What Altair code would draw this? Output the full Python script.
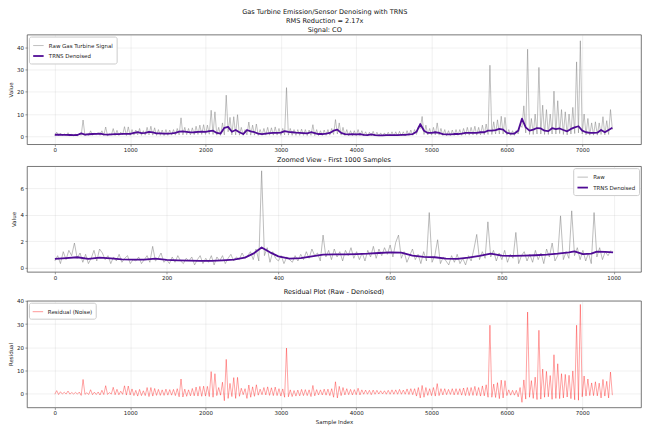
import altair as alt
import pandas as pd

TITLE_LINES = ["Gas Turbine Emission/Sensor Denoising with TRNS", "RMS Reduction = 2.17x", "Signal: CO"]
ZOOM_TITLE = "Zoomed View - First 1000 Samples"
RES_TITLE = "Residual Plot (Raw - Denoised)"

RAW_NAME = "Raw Gas Turbine Signal"
DEN_NAME = "TRNS Denoised"
RAW_SHORT = "Raw"
RES_NAME = "Residual (Noise)"

# full series, read per 50-sample block: band bottom (lo), band top (hi), denoised level
full_lo = [0.3, 0.2, 0.3, 0.3, 0.2, 0.2, 0.2, 0.4, 0.3, 0.4,
           0.4, 0.5, 0.4, 0.3, 0.2, 0.5, 0.3, 0.3, 0.6, 0.3,
           0.4, 0.5, 0.6, 0.4, 0.5, 0.6, 0.5, 0.4, 0.4, 0.3,
           0.4, 0.5, 0.5, 0.6, 0.6, 0.7, 0.6, 0.7, 0.8, 0.8,
           0.8, 0.9, 0.8, 0.5, 0.4, 0.6, 2.0, 0.6, 0.6, 0.5,
           0.4, 0.6, 0.5, 0.5, 0.4, 0.4, 0.5, 0.5, 0.5, 0.5,
           0.4, 0.6, 0.5, 0.4, 0.4, 0.4, 0.4, 0.3, 0.4, 0.3,
           0.3, 0.3, 0.4, 0.5, 0.8, 1.0, 0.5, 0.3, 0.2, 0.2,
           0.2, 0.3, 0.2, 0.1, 0.2, 0.1, 0.1, 0.1, 0.1, 0.1,
           0.1, 0.1, 0.2, 0.2, 0.3, 0.4, 0.8, 3.5, 0.8, 0.6,
           0.5, 0.6, 0.5, 0.3, 0.2, 0.3, 0.3, 0.4, 0.4, 0.5,
           0.5, 0.6, 0.5, 0.6, 0.7, 0.8, 0.8, 1.0, 1.0, 1.0,
           0.5, 0.4, 0.4, 1.0, 4.0, 1.5, 0.8, 0.8, 1.0, 1.0,
           0.8, 0.8, 1.0, 1.0, 1.2, 0.8, 0.6, 1.0, 1.2, 1.5,
           1.0, 0.6, 0.5, 0.5, 0.5, 0.8, 0.6, 0.8, 3.0]
full_hi = [1.85, 1.4, 1.1, 1.6, 0.9, 0.9, 1.1, 7.3, 1.0, 2.45,
           1.5, 1.6, 2.45, 4.15, 1.0, 3.45, 2.65, 1.85, 4.3, 4.2,
           3.0, 2.8, 3.5, 2.5, 4.0, 4.5, 3.8, 3.0, 2.8, 3.0,
           2.8, 3.0, 3.5, 8.3, 4.0, 3.5, 3.8, 4.5, 5.0, 5.2,
           5.0, 11.7, 11.0, 4.0, 6.0, 18.5, 8.5, 8.8, 9.7, 4.0,
           3.0, 6.4, 5.0, 5.5, 3.0, 3.5, 4.0, 3.8, 4.2, 3.5,
           3.5, 21.9, 3.5, 3.0, 3.0, 3.2, 3.0, 2.8, 5.2, 3.0,
           2.5, 2.8, 3.0, 3.5, 7.5, 6.0, 4.0, 3.0, 2.5, 2.5,
           3.0, 2.5, 2.0, 1.8, 2.2, 1.8, 1.5, 1.5, 1.8, 2.0,
           2.0, 2.2, 2.0, 2.5, 2.8, 3.0, 4.5, 8.9, 5.0, 3.5,
           4.0, 6.0, 3.5, 3.0, 2.5, 2.8, 3.0, 3.0, 3.5, 4.0,
           4.0, 4.5, 4.0, 5.0, 5.5, 32.0, 6.5, 7.4, 9.0, 8.5,
           3.0, 2.5, 2.5, 5.0, 13.7, 39.2, 8.0, 10.0, 31.0, 14.0,
           12.0, 10.0, 20.3, 16.0, 12.0, 11.0, 10.0, 13.0, 33.5, 43.0,
           10.0, 8.0, 6.0, 6.5, 6.0, 8.8, 7.0, 12.0]
full_den = [0.68, 0.72, 0.62, 0.62, 0.55, 0.5, 0.55, 1.3, 0.75, 0.9,
            1.0, 1.02, 1.13, 0.85, 0.68, 0.85, 0.92, 0.93, 1.05, 1.05,
            1.1, 1.5, 1.8, 1.4, 1.5, 2.0, 1.7, 1.3, 1.3, 1.2,
            1.2, 1.3, 1.5, 2.1, 2.2, 2.0, 1.7, 1.8, 2.0, 2.1,
            2.0, 2.3, 2.5, 1.5, 1.2, 3.8, 4.2, 2.0, 2.8, 1.8,
            1.0, 2.8, 2.2, 1.8, 1.2, 1.0, 1.2, 1.4, 1.5, 1.5,
            1.6, 2.3, 2.0, 1.8, 1.6, 1.5, 1.4, 1.3, 1.8, 1.4,
            1.0, 1.0, 1.2, 1.5, 2.5, 3.0, 1.5, 1.0, 0.8, 0.9,
            0.8, 1.0, 0.6, 0.5, 0.8, 0.5, 0.4, 0.4, 0.5, 0.5,
            0.5, 0.5, 0.6, 0.6, 0.8, 1.0, 2.0, 5.5, 2.5, 1.5,
            1.5, 1.8, 1.5, 1.0, 0.8, 0.8, 1.0, 1.0, 1.2, 1.5,
            1.5, 1.5, 1.5, 1.8, 1.8, 2.5, 2.5, 2.8, 3.3, 3.0,
            1.5, 1.2, 1.2, 2.5, 7.9, 4.0, 2.5, 3.0, 3.7, 3.5,
            2.5, 2.3, 3.6, 3.2, 3.5, 2.8, 2.2, 3.3, 4.0, 4.5,
            2.5, 1.8, 1.5, 1.5, 1.6, 2.8, 1.8, 2.8, 3.8]

# first 1000 samples, raw every 5 samples
zoom_raw = [0.5, 0.9, 0.3, 1.2, 0.6, 1.3, 0.9, 1.85, 0.7, 1.1,
            0.4, 1.0, 0.3, 0.7, 1.3, 0.5, 1.4, 1.1, 0.6, 0.9,
            0.3, 0.8, 0.5, 1.0, 0.4, 0.7, 0.9, 0.3, 0.6, 0.5,
            0.8, 0.3, 0.6, 0.9, 0.4, 1.6, 0.5, 0.7, 1.1, 0.4,
            0.6, 0.3, 0.8, 0.4, 0.9, 0.5, 0.3, 0.7, 0.5, 0.8,
            0.2, 0.6, 0.9, 0.3, 0.7, 0.4, 0.9, 0.2, 0.8, 0.5,
            0.9, 0.3, 0.7, 1.0, 0.5, 0.8, 0.6, 1.1, 0.7, 0.9,
            1.2, 0.6, 1.4, 0.5, 7.3, 0.9, 1.5, 0.4, 1.2, 0.7,
            0.5, 0.9, 0.3, 0.8, 0.6, 0.4, 0.9, 0.5, 1.0, 0.6,
            1.2, 0.7, 1.4, 0.9, 1.1, 0.5, 2.45, 0.8, 1.3, 0.6,
            1.4, 0.8, 1.2, 0.5, 1.3, 0.9, 1.5, 0.7, 1.2, 0.6,
            1.1, 0.5, 1.3, 0.8, 1.6, 0.7, 1.4, 0.9, 1.5, 1.0,
            1.7, 0.8, 1.9, 2.45, 0.7, 1.2, 0.4, 0.9, 1.4, 0.6,
            1.0, 0.3, 1.2, 0.5, 4.15, 0.4, 0.9, 2.1, 0.3, 0.8,
            0.5, 0.2, 0.9, 0.4, 1.0, 0.3, 0.7, 0.2, 0.9, 0.5,
            1.4, 2.5, 0.6, 1.2, 0.7, 3.45, 0.8, 1.3, 0.5, 1.1,
            0.6, 1.3, 0.4, 1.0, 0.7, 2.65, 0.3, 0.9, 1.2, 0.5,
            1.0, 0.4, 1.3, 0.6, 1.1, 0.3, 1.4, 0.8, 1.85, 0.5,
            0.9, 3.9, 0.6, 1.2, 0.7, 4.28, 0.9, 1.5, 0.6, 1.3,
            0.5, 1.1, 0.3, 4.15, 0.8, 1.5, 0.6, 1.2, 0.9, 1.3]
zoom_den_idx = [0, 20, 40, 60, 80, 100, 120, 140, 160, 180, 200, 220, 240, 260, 280,
                300, 320, 340, 355, 370, 385, 400, 420, 440, 460, 480, 500, 520, 540,
                560, 580, 600, 620, 640, 660, 680, 700, 720, 740, 760, 780, 800, 820,
                840, 860, 880, 900, 920, 930, 945, 960, 970, 985, 999]
zoom_den = [0.65, 0.72, 0.78, 0.65, 0.75, 0.7, 0.62, 0.6, 0.6, 0.67, 0.58, 0.55, 0.52, 0.5, 0.5,
            0.55, 0.6, 0.75, 1.05, 1.52, 1.15, 0.85, 0.68, 0.72, 0.85, 0.97, 1.0, 1.0, 1.02,
            1.05, 1.1, 1.15, 1.13, 0.9, 0.8, 0.78, 0.68, 0.65, 0.75, 0.88, 1.05, 0.9, 0.88,
            0.9, 0.93, 0.97, 1.05, 1.15, 1.23, 1.02, 1.05, 1.2, 1.18, 1.15]

full_xticks = [0, 1000, 2000, 3000, 4000, 5000, 6000, 7000]
zoom_xticks = [0, 200, 400, 600, 800, 1000]
top_yticks = [0, 10, 20, 30, 40]
zoom_yticks = [0, 2, 4, 6]
res_yticks = [0, 10, 20, 30, 40]

C_RAW, C_DEN, C_RES = "#808080", "#4f0b95", "#ff0000"

# tables
raw_idx, raw_val, res_val = [], [], []
for k, lo in enumerate(full_lo):
    raw_idx.append(50 * k); raw_val.append(lo); res_val.append(lo - full_den[k])
    if k < len(full_hi):
        raw_idx.append(50 * k + 25); raw_val.append(full_hi[k]); res_val.append(full_hi[k] - full_den[k])

df_top_raw = pd.DataFrame({"idx": raw_idx, "value": raw_val, "series": RAW_NAME})
df_top_den = pd.DataFrame({"idx": [50 * k for k in range(len(full_den))], "value": full_den, "series": DEN_NAME})
df_zoom_raw = pd.DataFrame({"idx": [5 * i for i in range(len(zoom_raw))], "value": zoom_raw, "series": RAW_SHORT})
df_zoom_den = pd.DataFrame({"idx": zoom_den_idx, "value": zoom_den, "series": DEN_NAME})
df_res = pd.DataFrame({"idx": raw_idx, "value": res_val, "series": RES_NAME})

W = 616
FONT = "DejaVu Sans"


def legend(orient, **kw):
    return alt.Legend(title=None, orient=orient, offset=2, padding=3, fillColor="white",
                      strokeColor="#cccccc", cornerRadius=2, labelFontSize=5.5, labelFont=FONT,
                      symbolType="stroke", symbolSize=110, rowPadding=0, labelOffset=4,
                      labelColor="#222", **kw)


def xaxis(ticks, title):
    if title:
        return alt.Axis(values=ticks, format="d", title=title)
    return alt.Axis(values=ticks, format="d", title=None)


def layer(df, xdom, xticks, ydom, yticks, ytitle, dom, cols, widths, opac, orient):
    lg = legend(orient)
    return alt.Chart(df).mark_line(clip=True, strokeJoin="round").encode(
        x=alt.X("idx:Q", scale=alt.Scale(domain=xdom, nice=False, zero=False), axis=xaxis(xticks, None)),
        y=alt.Y("value:Q", scale=alt.Scale(domain=ydom, nice=False, zero=False),
                axis=alt.Axis(values=yticks, title=ytitle)),
        color=alt.Color("series:N", scale=alt.Scale(domain=dom, range=cols), legend=lg),
        strokeWidth=alt.StrokeWidth("series:N", scale=alt.Scale(domain=dom, range=widths), legend=lg),
        opacity=alt.Opacity("series:N", scale=alt.Scale(domain=dom, range=opac), legend=lg),
    )


FULL_X = [-370, 7780]
ZOOM_X = [-50, 1049]

dom1 = [RAW_NAME, DEN_NAME]
p1 = alt.layer(
    layer(df_top_raw, FULL_X, full_xticks, [-3.6, 45.8], top_yticks, "Value", dom1,
          [C_RAW, C_DEN], [0.7, 1.8], [0.7, 1.0], "top-left"),
    layer(df_top_den, FULL_X, full_xticks, [-3.6, 45.8], top_yticks, "Value", dom1,
          [C_RAW, C_DEN], [0.7, 1.8], [0.7, 1.0], "top-left"),
).properties(width=W, height=110)

dom2 = [RAW_SHORT, DEN_NAME]
p2 = alt.layer(
    layer(df_zoom_raw, ZOOM_X, zoom_xticks, [-0.32, 7.65], zoom_yticks, "Value", dom2,
          [C_RAW, C_DEN], [0.7, 1.8], [0.75, 1.0], "top-right"),
    layer(df_zoom_den, ZOOM_X, zoom_xticks, [-0.32, 7.65], zoom_yticks, "Value", dom2,
          [C_RAW, C_DEN], [0.7, 1.8], [0.75, 1.0], "top-right"),
).properties(width=W, height=106, title=alt.TitleParams(ZOOM_TITLE, offset=3))

p3 = alt.Chart(df_res).mark_line(clip=True, strokeJoin="round", strokeWidth=0.6, opacity=0.6).encode(
    x=alt.X("idx:Q", scale=alt.Scale(domain=FULL_X, nice=False, zero=False),
            axis=xaxis(full_xticks, "Sample Index")),
    y=alt.Y("value:Q", scale=alt.Scale(domain=[-6.1, 40.1], nice=False, zero=False),
            axis=alt.Axis(values=res_yticks, title="Residual")),
    color=alt.Color("series:N", scale=alt.Scale(domain=[RES_NAME], range=[C_RES]),
                    legend=legend("top-left", symbolStrokeWidth=0.8, symbolOpacity=0.5)),
).properties(width=W, height=107, title=alt.TitleParams(RES_TITLE, offset=3))

indep = dict(color="independent", strokeWidth="independent", opacity="independent",
             x="independent", y="independent")
lind = dict(color="independent", strokeWidth="independent", opacity="independent")
inner = alt.vconcat(p1, p2, spacing=2).resolve_scale(**indep).resolve_legend(**lind)
chart = alt.vconcat(inner, p3, spacing=7).resolve_scale(**indep).resolve_legend(**lind).properties(
    title=alt.TitleParams(TITLE_LINES, anchor="middle", lineHeight=8.6, offset=1),
    padding=0,
).configure(font=FONT).configure_view(
    stroke="#555555", strokeWidth=0.8
).configure_axis(
    labelFontSize=5.5, titleFontSize=5.5, titleFontWeight="normal", labelColor="#222222",
    titleColor="#222222", tickColor="#555555", tickSize=2, tickWidth=0.6, domain=False,
    grid=True, gridColor="#b0b0b0", gridOpacity=0.35, gridWidth=0.5, labelPadding=1.5,
    titlePadding=3, labelFont=FONT, titleFont=FONT
).configure_title(
    fontSize=6.6, fontWeight="normal", color="#111111", font=FONT
)

chart.save("out.html", embed_options={"renderer": "svg", "actions": False})
